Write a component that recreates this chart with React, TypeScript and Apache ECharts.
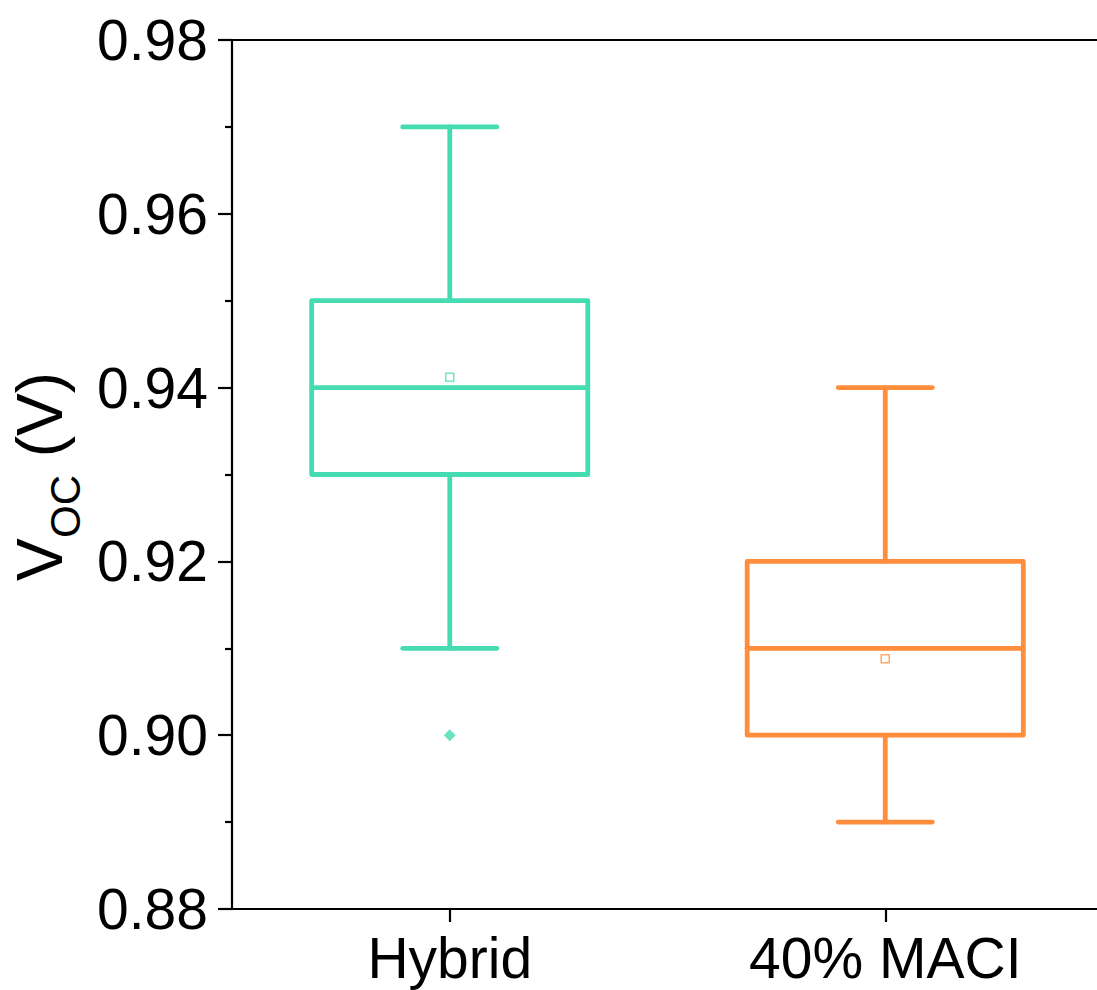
import React, { useEffect, useRef } from "react";
import * as echarts from "echarts";

const categories = ["Hybrid", "40% MACI"];
const whiskerMin = [0.91, 0.89];
const q1 = [0.93, 0.9];
const median = [0.94, 0.91];
const q3 = [0.95, 0.92];
const whiskerMax = [0.97, 0.94];
const means = [0.9412, 0.9088];
const outliers: [number, number][] = [[0, 0.9]];
const colors = ["#46DCB1", "#FF8D3C"];
const yTicks = [0.88, 0.9, 0.92, 0.94, 0.96, 0.98];

const FONT = "'Liberation Sans', Arial, sans-serif";

export default function App() {
  const ref = useRef<HTMLDivElement>(null);
  useEffect(() => {
    if (!ref.current) return;
    const chart = echarts.init(ref.current, undefined, { renderer: "svg" });
    const boxData = categories.map((_, i) => [i, whiskerMin[i], q1[i], median[i], q3[i], whiskerMax[i]]);
    const option: any = {
      animation: false,
      backgroundColor: "#fff",
      grid: {
        left: 232,
        top: 40,
        width: 871,
        bottom: 81,
        show: true,
        borderColor: "#000",
        borderWidth: 2,
        backgroundColor: "transparent",
      },
      xAxis: {
        type: "category",
        data: categories,
        axisLine: { lineStyle: { color: "#000", width: 2.2 } },
        axisTick: { show: true, inside: false, length: 13, alignWithLabel: true, lineStyle: { color: "#000", width: 2.2 } },
        axisLabel: { fontSize: 57, fontFamily: FONT, color: "#000", margin: 20 },
        splitLine: { show: false },
      },
      yAxis: {
        type: "value",
        min: yTicks[0],
        max: yTicks[yTicks.length - 1],
        interval: 0.02,
        axisLine: { show: true, lineStyle: { color: "#000", width: 2.2 } },
        axisTick: { show: true, inside: false, length: 14, lineStyle: { color: "#000", width: 2.2 } },
        minorTick: { show: true, splitNumber: 2, length: 7, lineStyle: { color: "#000", width: 2.2 } },
        axisLabel: {
          fontSize: 57,
          fontFamily: FONT,
          color: "#000",
          margin: 24,
          formatter: (v: number) => v.toFixed(2),
        },
        splitLine: { show: false },
      },
      graphic: [
        {
          type: "group",
          x: 0,
          y: 581,
          rotation: Math.PI / 2,
          children: [
            { type: "text", x: 0, y: 40, style: { text: "V", font: `64px ${FONT}`, fill: "#000", textAlign: "left", textVerticalAlign: "middle" } },
            { type: "text", x: 43, y: 65, style: { text: "OC", font: `42px ${FONT}`, fill: "#000", textAlign: "left", textVerticalAlign: "middle" } },
            { type: "text", x: 106, y: 40, style: { text: " (V)", font: `64px ${FONT}`, fill: "#000", textAlign: "left", textVerticalAlign: "middle" } },
          ],
        },
      ],
      series: [
        {
          type: "custom",
          data: boxData,
          clip: false,
          encode: { x: 0, y: [1, 2, 3, 4, 5] },
          renderItem: (params: any, api: any) => {
            const i = api.value(0);
            const color = colors[params.dataIndex];
            const pMin = api.coord([i, api.value(1)]);
            const pQ1 = api.coord([i, api.value(2)]);
            const pMed = api.coord([i, api.value(3)]);
            const pQ3 = api.coord([i, api.value(4)]);
            const pMax = api.coord([i, api.value(5)]);
            const band = api.size([1, 0])[0];
            const bw = band * 0.634;
            const cw = band * 0.216;
            const x = pMed[0];
            const st = { stroke: color, lineWidth: 4.8, lineCap: "round", lineJoin: "round", fill: "none" };
            return {
              type: "group",
              children: [
                { type: "line", shape: { x1: x, y1: pQ3[1], x2: x, y2: pMax[1] }, style: st },
                { type: "line", shape: { x1: x, y1: pQ1[1], x2: x, y2: pMin[1] }, style: st },
                { type: "line", shape: { x1: x - cw / 2, y1: pMax[1], x2: x + cw / 2, y2: pMax[1] }, style: st },
                { type: "line", shape: { x1: x - cw / 2, y1: pMin[1], x2: x + cw / 2, y2: pMin[1] }, style: st },
                { type: "rect", shape: { x: x - bw / 2, y: pQ3[1], width: bw, height: pQ1[1] - pQ3[1] }, style: st },
                { type: "line", shape: { x1: x - bw / 2, y1: pMed[1], x2: x + bw / 2, y2: pMed[1] }, style: st },
              ],
            };
          },
        },
        {
          type: "scatter",
          data: means.map((m, i) => ({
            value: [i, m],
            itemStyle: { color: "transparent", borderColor: colors[i], borderWidth: 1.5, opacity: 0.75 },
          })),
          symbol: "rect",
          symbolSize: 8,
          z: 5,
        },
        {
          type: "scatter",
          data: outliers.map((o) => ({ value: o, itemStyle: { color: colors[o[0]] } })),
          symbol: "diamond",
          symbolSize: [12, 12],
          z: 5,
        },
      ],
    };
    chart.setOption(option);
    return () => chart.dispose();
  }, []);
  return (
    <div style={{ position: "absolute", left: 0, top: 0, width: 1097, height: 990, overflow: "hidden", background: "#fff" }}>
      <div ref={ref} style={{ width: 1110, height: 990 }} />
    </div>
  );
}
